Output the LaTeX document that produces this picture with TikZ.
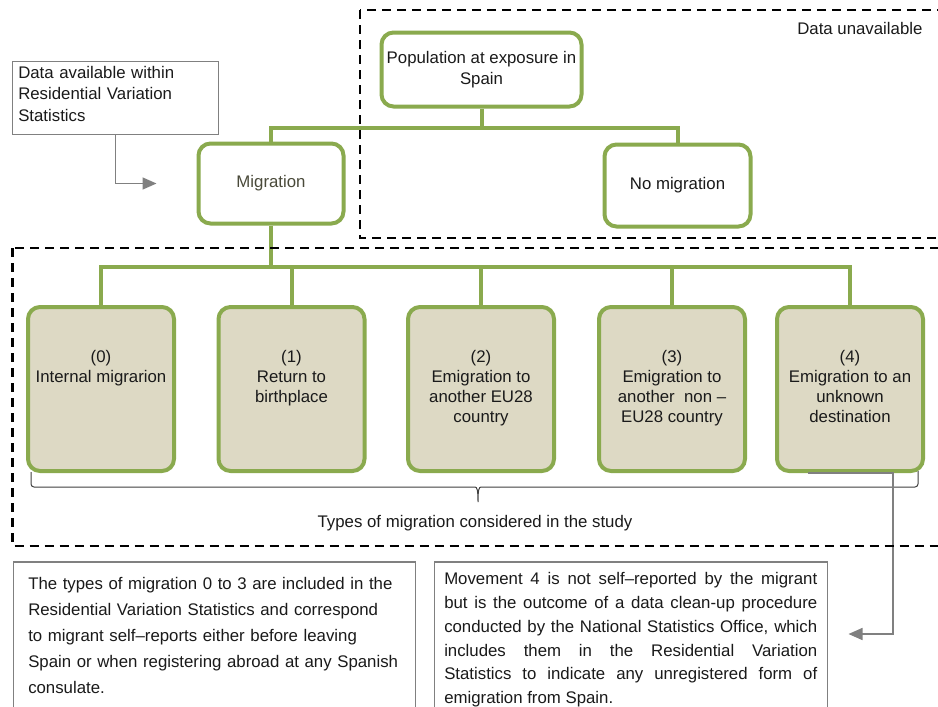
\documentclass[tikz,border=0pt]{standalone}
\usepackage{fontspec}
\setmainfont{Liberation Sans}
\usetikzlibrary{
  arrows.meta,
  positioning,
  calc
}
\definecolor{mgGreen}{HTML}{8AAA4E}
\definecolor{mgTan}{HTML}{DDD9C4}
\definecolor{mgGray}{HTML}{808080}
\definecolor{mgInk}{HTML}{1A1A1A}
\definecolor{mgOlive}{HTML}{4A4A3A}
\newcommand{\mgfont}{\fontsize{16.8}{20.5}\selectfont}
\tikzset{
  mgnode/.style={
    draw=mgGreen, line width=4pt, rounded corners=12pt,
    font=\mgfont, align=center, text=mgInk
  },
  mgbox/.style={mgnode, fill=white},
  mgtype/.style={mgnode, fill=mgTan, minimum width=146pt, minimum height=164pt},
  mgtypetext/.style={font=\fontsize{16.8}{20}\selectfont, align=center, inner sep=0pt, text=mgInk},
  mgnote/.style={draw=mgGray, line width=1.5pt, fill=white, font=\mgfont, text=mgInk},
  mgtree/.style={draw=mgGreen, line width=4pt},
  mgpointer/.style={draw=mgGray, line width=1.5pt, -{Triangle[length=14pt, width=12pt]}},
  mgzone/.style={draw=black, line width=2.4pt, dash pattern=on 9pt off 6pt},
  mgbrace/.style={draw=black!75, line width=1pt, rounded corners=3pt},
  mglabel/.style={font=\mgfont, text=mgInk}
}

\begin{document}
\begin{tikzpicture}[x=1pt, y=-1pt]
  \useasboundingbox[fill=white] (0,0) rectangle (938,707);
  % top of the tree
  \node[mgbox, minimum width=200pt, minimum height=74pt] (pop) at (481.5,69.5)
    {Population at exposure in\\Spain};
  \node[mgbox, minimum width=145pt, minimum height=80pt, text=mgOlive] (mig) at (271,183.5) {Migration};
  \node[mgbox, minimum width=146pt, minimum height=82pt] (nomig) at (677.5,185.5) {No migration};
  \node[mgnote, minimum width=206pt, text depth=51pt, inner ysep=5pt, text width=194pt, align=left,
    anchor=north west, font=\fontsize{16.8}{21.5}\selectfont] (avail) at (11.5,60.5)
    {Data available within\\Residential Variation\\Statistics};
  \coordinate (popfork) at ($(pop.south)+(0,19)$);
  \draw[mgtree] (pop.south) -- (popfork) -| (mig.north);
  \draw[mgtree] (popfork) -| (nomig.north);
  \draw[mgpointer] (avail.south) |- ($(mig.west)+(-40,0)$);
  % types of migration
  \node[mgtype] (t0) at (101,389) {};
  \node[mgtype] (t1) at (291.5,389) {};
  \node[mgtype] (t2) at (481,389) {};
  \node[mgtype] (t3) at (672,389) {};
  \node[mgtype] (t4) at (850,389) {};
  \node[mgtypetext, below=45pt of t0.north] (l0) {(0)\\Internal migrarion};
  \node[mgtypetext, below=45pt of t1.north] (l1) {(1)\\Return to\\birthplace};
  \node[mgtypetext, below=45pt of t2.north] (l2) {(2)\\Emigration to\\another EU28\\country};
  \node[mgtypetext, below=45pt of t3.north] (l3) {(3)\\Emigration to\\another\ \ non --\\EU28 country};
  \node[mgtypetext, below=45pt of t4.north] (l4) {(4)\\Emigration to an\\unknown\\destination};
  \coordinate (migfork) at ($(mig.south)+(0,41)$);
  \draw[mgtree] (mig.south) -- (migfork);
  \foreach \k in {0,...,4}
    \draw[mgtree] (migfork) -| (t\k.north);
  % brace under the types
  \draw[mgbrace] (31,472) -- (31,487) -- (472,487)
    .. controls (477,487) and (478,490) .. (478,504)
    .. controls (478,490) and (479,487) .. (484,487) -- (918,487) -- (918,471);
  \node[mglabel] (types) at (475,523) {Types of migration considered in the study};
  % notes
  \node[mgnote, anchor=north west, inner xsep=15pt, inner ysep=15.7pt, text width=372pt,
    text depth=140pt, align=left, font=\fontsize{16.8}{26}\selectfont] (note03) at (12.5,561)
    {The types of migration 0 to 3 are included in the\\
     Residential Variation Statistics and correspond\\
     to migrant self--reports either before leaving\\
     Spain or when registering abroad at any Spanish\\
     consulate.};
  \node[mgnote, anchor=north west, inner xsep=10pt, inner ysep=10.7pt, text width=373pt,
    text depth=150pt, align=justify, font=\fontsize{16.8}{23.8}\selectfont] (note4) at (433.5,561)
    {Movement 4 is not self--reported by the migrant\linebreak
     but is the outcome of a data clean-up procedure\linebreak
     conducted by the National Statistics Office, which\linebreak
     includes them in the Residential Variation\linebreak
     Statistics to indicate any unregistered form of\linebreak
     emigration from Spain.};
  \coordinate (tip4) at ($(note4.north west)+(415,73)$);
  \draw[mgpointer] ($(t4.south)+(-42,0)$) -- ($(t4.south)+(43,0)$) |- (tip4);
  % zones
  \draw[mgzone] (360,10) rectangle (950,238);
  \draw[mgzone] (12.5,248) rectangle (950,546);
  \node[mglabel, anchor=east] (unavail) at (926,28) {Data unavailable};
\end{tikzpicture}
\end{document}
